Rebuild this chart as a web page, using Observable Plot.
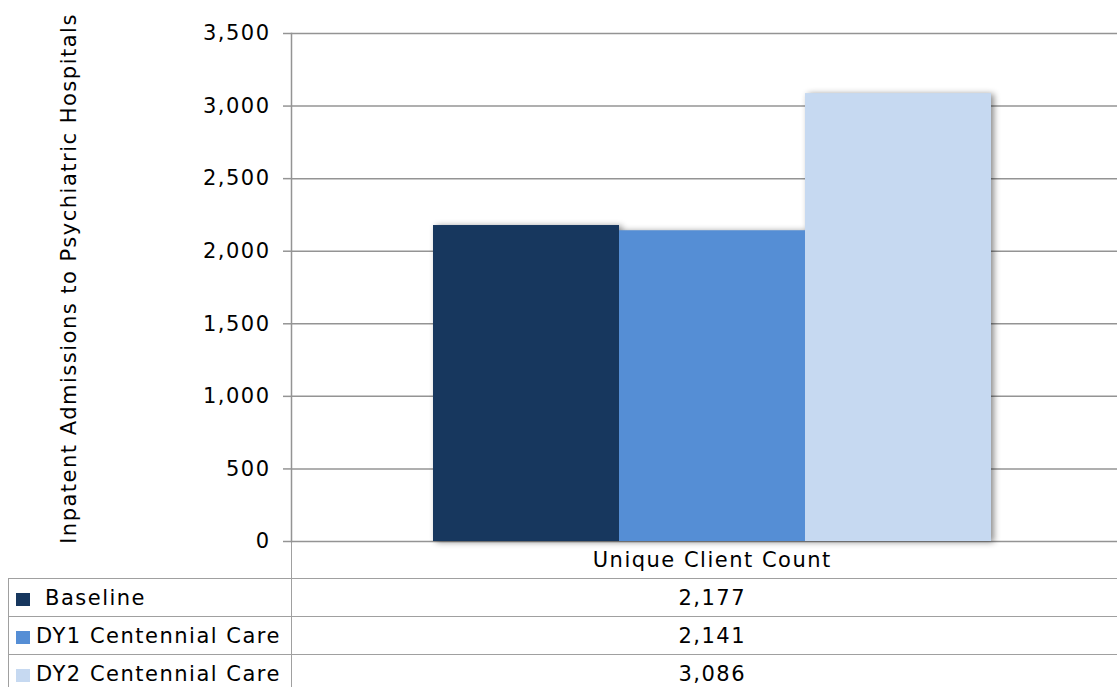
<!DOCTYPE html>
<html>
<head>
<meta charset="utf-8">
<script src="https://cdn.jsdelivr.net/npm/d3@7"></script>
<script src="https://cdn.jsdelivr.net/npm/@observablehq/plot@0.6"></script>
<style>
  html, body { margin: 0; padding: 0; background: #fff; overflow: hidden; }
  #wrap { position: relative; width: 1117px; height: 687px; overflow: hidden; font-family: "DejaVu Sans", Verdana, sans-serif; }
  #chart svg { display: block; overflow: visible; }
  table { border-collapse: collapse; table-layout: fixed; margin-left: 8px; width: 1124px;
          font-size: 21px; letter-spacing: 1.5px; color: #000; font-family: "DejaVu Sans", Verdana, sans-serif; }
  td { padding: 0; border: 1px solid #a0a0a0; white-space: pre; overflow: hidden; vertical-align: middle; }
  tr.head td { height: 36px; border-top: none; }
  tr.head td.c1 { border-left: none; border-bottom: 1px solid #a0a0a0; }
  tr.head td.c2 { text-align: center; border-right: none; }
  tr.row td { height: 37px; }
  tr.row td.c2 { text-align: center; border-right: none; }
  .key { display: inline-block; width: 14px; height: 13px; margin-left: 7px; margin-right: 6px; vertical-align: -1px; }
  tr.r0 .lab { padding-left: 9px; }
</style>
</head>
<body>
<div id="wrap">
  <div id="chart"></div>
  <div id="table"></div>
</div>
<script>
// ---- data ----
const categories = ["Unique Client Count"];
const series = ["Baseline", "DY1 Centennial Care", "DY2 Centennial Care"];
const values = [2177, 2141, 3086];
const colors = ["#17375e", "#558ed5", "#c6d9f1"];
const yTicks = [0, 500, 1000, 1500, 2000, 2500, 3000, 3500];
const yLabel = "Inpatent Admissions to Psychiatric Hospitals";

const data = series.map((s, i) => ({series: s, value: values[i]}));
const fmt = d3.format(",");
const gridColor = "#949494";

const chart = Plot.plot({
  width: 1117,
  height: 542,
  marginLeft: 291,
  marginRight: -15,
  marginTop: 33,
  marginBottom: 1,
  style: {fontFamily: "'DejaVu Sans', Verdana, sans-serif", fontSize: "21px", letterSpacing: "1.5px", color: "#000", background: "transparent", overflow: "visible"},
  x: {domain: series, paddingInner: 0, paddingOuter: 0.75, axis: null},
  y: {domain: [0, 3500], axis: null},
  color: {domain: series, range: colors},
  marks: [
    Plot.gridY(yTicks, {stroke: gridColor, strokeOpacity: 1, strokeWidth: 1.5}),
    Plot.axisY(yTicks, {tickSize: 8, tickPadding: 13, tickFormat: fmt, label: null, stroke: gridColor, strokeWidth: 1.5, fill: "#000"}),
    Plot.frame({anchor: "left", stroke: gridColor, strokeWidth: 1.5}),
    Plot.barY(data, {x: "series", y: "value", fill: "series", imageFilter: "drop-shadow(3px 1px 3px rgba(0,0,0,0.45))"}),
    Plot.text([yLabel], {frameAnchor: "left", textAnchor: "middle", rotate: -90, dx: -222, dy: -9, fill: "#000", fontSize: 21})
  ]
});
document.getElementById("chart").appendChild(chart);

// ---- data table below the chart ----
const tbl = document.createElement("table");
const colg = document.createElement("colgroup");
[283, 841].forEach(w => { const c = document.createElement("col"); c.style.width = w + "px"; colg.appendChild(c); });
tbl.appendChild(colg);
const head = tbl.insertRow();
head.className = "head";
const h1 = head.insertCell(); h1.className = "c1";
const h2 = head.insertCell(); h2.className = "c2"; h2.textContent = categories[0];
series.forEach((s, i) => {
  const r = tbl.insertRow();
  r.className = "row r" + i;
  const c1 = r.insertCell(); c1.className = "c1";
  const key = document.createElement("span"); key.className = "key"; key.style.background = colors[i];
  const lab = document.createElement("span"); lab.className = "lab"; lab.textContent = s;
  c1.appendChild(key); c1.appendChild(lab);
  const c2 = r.insertCell(); c2.className = "c2"; c2.textContent = fmt(values[i]);
});
document.getElementById("table").appendChild(tbl);
</script>
</body>
</html>
